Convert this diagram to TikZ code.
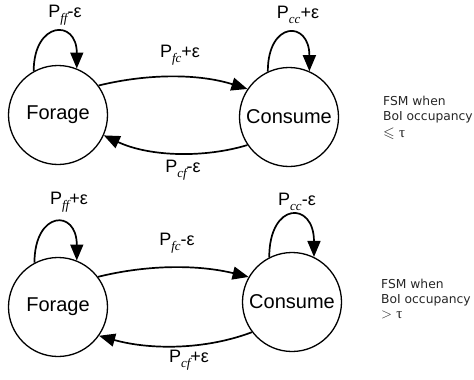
\documentclass[tikz,border=0pt]{standalone}
\usepackage{amssymb}
\usepackage{fontspec}
\setmainfont{Liberation Sans}
\newfontfamily\subfont{Liberation Serif}
\newfontfamily\notefont{DejaVu Sans}
\usetikzlibrary{arrows.meta}
\newcommand{\plab}[2]{P\raisebox{-0.28em}{\fontsize{13}{13}\selectfont\subfont\itshape #1}#2ε}
\begin{document}
\begin{tikzpicture}[x=1pt,y=-1pt,
  state/.style={circle,draw,line width=1.3pt,minimum size=99pt,inner sep=0pt,font=\fontsize{20}{20}\selectfont},
  trans/.style={line width=1.7pt,-{Triangle[length=16pt,width=13pt]}},
  lab/.style={font=\fontsize{18}{18}\selectfont,inner sep=0pt},
  note/.style={font=\notefont\fontsize{12.3}{12.3}\selectfont,text=black!85,anchor=base west,inner sep=0pt}]
\useasboundingbox (0,0) rectangle (474,380);
% top FSM
\node[state] (F1) at (58,115) {Forage};
\node[state] (C1) at (289,117) {Consume};
\draw[trans] (F1.119) .. controls +(0,-50) and +(0,-50) .. (F1.68);
\draw[trans] (C1.115) .. controls +(0,-51) and +(0,-51) .. (C1.66);
\draw[trans] (F1.36) .. controls (150,73) and (200,74) .. (C1.146);
\draw[trans] (C1.214) .. controls (205,158) and (150,157) .. (F1.-24);
\node[lab] (l1) at (65,15) {\plab{ff}{-}};
\node[lab] (l2) at (180,55) {\plab{fc}{+}};
\node[lab] (l3) at (298,15) {\plab{cc}{+}};
\node[lab] (l4) at (183,170) {\plab{cf}{-}};
\node[note] (n1) at (383,105) {FSM when};
\node[note] (n2) at (383,120) {BoI occupancy};
\node[note,font=\fontsize{15}{15}\selectfont] (n3) at (383,137) {$\leqslant$ {\subfont τ}};
% bottom FSM
\node[state] (F2) at (58,307) {Forage};
\node[state] (C2) at (292,302) {Consume};
\draw[trans] (F2.118) .. controls +(0,-52) and +(0,-52) .. (F2.68);
\draw[trans] (C2.117) .. controls +(0,-56) and +(0,-56) .. (C2.64);
\draw[trans] (F2.37) .. controls (150,264) and (200,265) .. (C2.150);
\draw[trans] (C2.217) .. controls (205,350) and (150,350) .. (F2.-35);
\node[lab] (m1) at (69,202) {\plab{ff}{+}};
\node[lab] (m2) at (177,243) {\plab{fc}{-}};
\node[lab] (m3) at (297,202) {\plab{cc}{-}};
\node[lab] (m4) at (189,360) {\plab{cf}{+}};
\node[note] (o1) at (381,288) {FSM when};
\node[note] (o2) at (381,303) {BoI occupancy};
\node[note,font=\fontsize{15}{15}\selectfont] (o3) at (381,318) {$>$ {\subfont τ}};
\end{tikzpicture}
\end{document}
